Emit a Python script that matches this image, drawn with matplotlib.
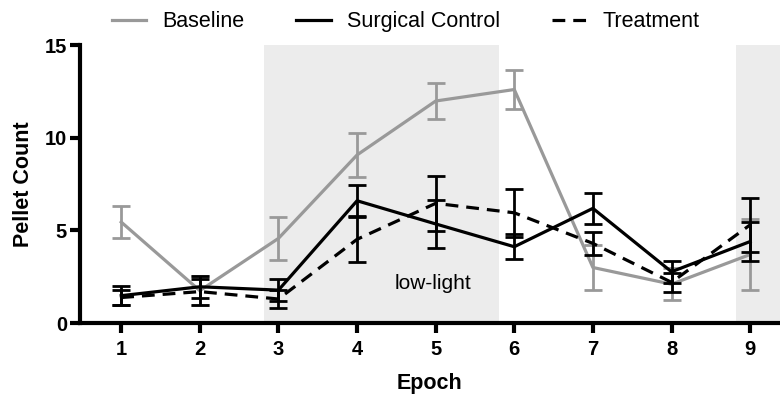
import matplotlib.pyplot as plt

plt.rcParams['font.family'] = ['Liberation Sans', 'DejaVu Sans']

epochs = [1, 2, 3, 4, 5, 6, 7, 8, 9]
baseline = [5.45, 1.75, 4.57, 9.07, 11.98, 12.6, 3.0, 2.1, 3.7]
baseline_err = [0.85, 0.8, 1.15, 1.17, 0.98, 1.03, 1.2, 0.85, 1.9]
surgical = [1.48, 1.96, 1.78, 6.6, 5.35, 4.12, 6.19, 2.77, 4.4]
surgical_err = [0.5, 0.6, 0.6, 0.85, 1.3, 0.68, 0.83, 0.6, 1.05]
treatment = [1.38, 1.7, 1.3, 4.52, 6.46, 5.95, 4.3, 2.2, 5.3]
treatment_err = [0.4, 0.7, 0.5, 1.25, 1.5, 1.3, 0.6, 0.5, 1.45]

fig = plt.figure(figsize=(7.8, 3.95), dpi=100)
ax = fig.add_axes([0.102, 0.182, 0.898, 0.704])

# low-light periods
ax.axvspan(2.81, 5.81, color='#ececec', lw=0, zorder=0)
ax.axvspan(8.82, 9.5, color='#ececec', lw=0, zorder=0)

lw = 2.3
ekw = dict(elinewidth=2, capsize=6.5, capthick=2)
ax.errorbar(epochs, baseline, yerr=baseline_err, color='#999999', lw=lw,
            label='Baseline', zorder=3, **ekw)
ax.errorbar(epochs, surgical, yerr=surgical_err, color='black', lw=lw,
            label='Surgical Control', zorder=4, **ekw)
ax.errorbar(epochs, treatment, yerr=treatment_err, color='black', lw=lw, ls=(0, (4, 2.5)),
            label='Treatment', zorder=4, **ekw)

ax.text(4.97, 2.15, 'low-light', fontsize=15, ha='center', va='center')

ax.set_xlim(0.47, 9.38)
ax.set_ylim(0, 15)
ax.set_xticks(epochs)
ax.set_yticks([0, 5, 10, 15])
for s in ['top', 'right']:
    ax.spines[s].set_visible(False)
for s in ['left', 'bottom']:
    ax.spines[s].set_linewidth(3)
ax.tick_params(width=3, length=7, labelsize=14.5, pad=5)
ax.tick_params(axis='y', pad=2)
for lab in ax.get_xticklabels() + ax.get_yticklabels():
    lab.set_fontweight('bold')
ax.set_xlabel('Epoch', fontsize=15.5, fontweight='bold', labelpad=10)
ax.set_ylabel('Pellet Count', fontsize=15.5, fontweight='bold', labelpad=8)

h, l = ax.get_legend_handles_labels()
h = [x[0] for x in h]
fig.legend(h, l, loc='upper center', bbox_to_anchor=(0.52, 1.02), ncol=3, frameon=False,
           fontsize=15.5, handlelength=1.6, handletextpad=0.75, columnspacing=2.4)

fig.savefig('out.png', dpi=100)
